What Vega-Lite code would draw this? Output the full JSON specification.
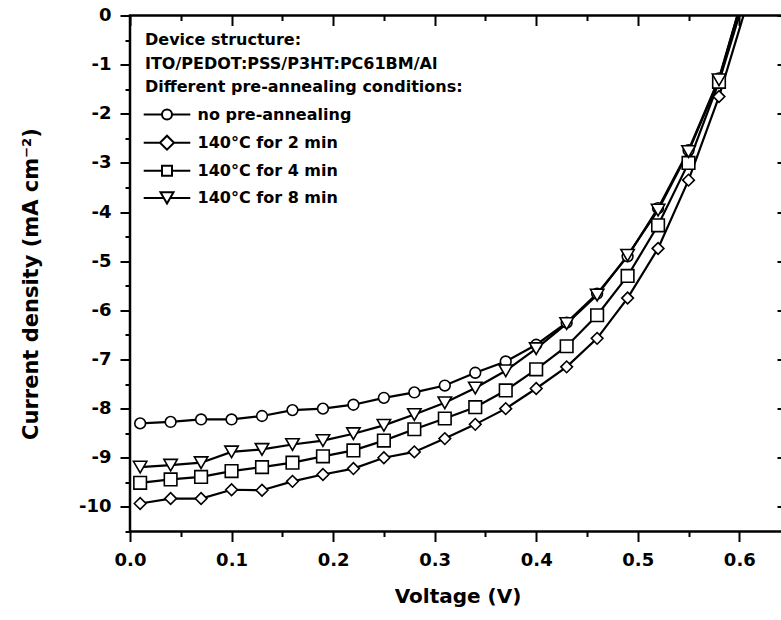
{
  "$schema": "https://vega.github.io/schema/vega-lite/v6.json",
  "width": 655,
  "height": 516,
  "autosize": {"type": "none"},
  "padding": {"left": 130, "top": 15.5, "right": 0, "bottom": 88.5},
  "background": "white",
  "config": {
    "view": {"stroke": "black", "strokeWidth": 2.5},
    "font": "DejaVu Sans",
    "axis": {
      "grid": false,
      "domain": false,
      "labelFont": "DejaVu Sans",
      "labelFontWeight": "bold",
      "labelFontSize": 18,
      "labelColor": "black",
      "labelFlush": false,
      "labelOverlap": false,
      "titleFont": "DejaVu Sans",
      "titleFontWeight": "bold",
      "titleFontSize": 20,
      "titleColor": "black",
      "tickColor": "black",
      "tickWidth": 2
    }
  },
  "data": {
    "values": [
      {"v": 0.01, "j": -8.30, "s": "no pre-annealing"},
      {"v": 0.04, "j": -8.27, "s": "no pre-annealing"},
      {"v": 0.07, "j": -8.22, "s": "no pre-annealing"},
      {"v": 0.10, "j": -8.22, "s": "no pre-annealing"},
      {"v": 0.13, "j": -8.15, "s": "no pre-annealing"},
      {"v": 0.16, "j": -8.03, "s": "no pre-annealing"},
      {"v": 0.19, "j": -8.00, "s": "no pre-annealing"},
      {"v": 0.22, "j": -7.92, "s": "no pre-annealing"},
      {"v": 0.25, "j": -7.78, "s": "no pre-annealing"},
      {"v": 0.28, "j": -7.67, "s": "no pre-annealing"},
      {"v": 0.31, "j": -7.53, "s": "no pre-annealing"},
      {"v": 0.34, "j": -7.27, "s": "no pre-annealing"},
      {"v": 0.37, "j": -7.04, "s": "no pre-annealing"},
      {"v": 0.40, "j": -6.70, "s": "no pre-annealing"},
      {"v": 0.43, "j": -6.25, "s": "no pre-annealing"},
      {"v": 0.46, "j": -5.66, "s": "no pre-annealing"},
      {"v": 0.49, "j": -4.90, "s": "no pre-annealing"},
      {"v": 0.52, "j": -3.92, "s": "no pre-annealing"},
      {"v": 0.55, "j": -2.74, "s": "no pre-annealing"},
      {"v": 0.58, "j": -1.28, "s": "no pre-annealing"},
      {"v": 0.61, "j": 0.85, "s": "no pre-annealing"},
      {"v": 0.01, "j": -9.93, "s": "140°C for 2 min"},
      {"v": 0.04, "j": -9.83, "s": "140°C for 2 min"},
      {"v": 0.07, "j": -9.83, "s": "140°C for 2 min"},
      {"v": 0.10, "j": -9.65, "s": "140°C for 2 min"},
      {"v": 0.13, "j": -9.66, "s": "140°C for 2 min"},
      {"v": 0.16, "j": -9.48, "s": "140°C for 2 min"},
      {"v": 0.19, "j": -9.34, "s": "140°C for 2 min"},
      {"v": 0.22, "j": -9.22, "s": "140°C for 2 min"},
      {"v": 0.25, "j": -9.00, "s": "140°C for 2 min"},
      {"v": 0.28, "j": -8.88, "s": "140°C for 2 min"},
      {"v": 0.31, "j": -8.61, "s": "140°C for 2 min"},
      {"v": 0.34, "j": -8.32, "s": "140°C for 2 min"},
      {"v": 0.37, "j": -8.00, "s": "140°C for 2 min"},
      {"v": 0.40, "j": -7.59, "s": "140°C for 2 min"},
      {"v": 0.43, "j": -7.15, "s": "140°C for 2 min"},
      {"v": 0.46, "j": -6.57, "s": "140°C for 2 min"},
      {"v": 0.49, "j": -5.75, "s": "140°C for 2 min"},
      {"v": 0.52, "j": -4.74, "s": "140°C for 2 min"},
      {"v": 0.55, "j": -3.35, "s": "140°C for 2 min"},
      {"v": 0.58, "j": -1.65, "s": "140°C for 2 min"},
      {"v": 0.61, "j": 0.40, "s": "140°C for 2 min"},
      {"v": 0.01, "j": -9.51, "s": "140°C for 4 min"},
      {"v": 0.04, "j": -9.44, "s": "140°C for 4 min"},
      {"v": 0.07, "j": -9.39, "s": "140°C for 4 min"},
      {"v": 0.10, "j": -9.27, "s": "140°C for 4 min"},
      {"v": 0.13, "j": -9.19, "s": "140°C for 4 min"},
      {"v": 0.16, "j": -9.10, "s": "140°C for 4 min"},
      {"v": 0.19, "j": -8.97, "s": "140°C for 4 min"},
      {"v": 0.22, "j": -8.85, "s": "140°C for 4 min"},
      {"v": 0.25, "j": -8.65, "s": "140°C for 4 min"},
      {"v": 0.28, "j": -8.42, "s": "140°C for 4 min"},
      {"v": 0.31, "j": -8.20, "s": "140°C for 4 min"},
      {"v": 0.34, "j": -7.97, "s": "140°C for 4 min"},
      {"v": 0.37, "j": -7.63, "s": "140°C for 4 min"},
      {"v": 0.40, "j": -7.20, "s": "140°C for 4 min"},
      {"v": 0.43, "j": -6.73, "s": "140°C for 4 min"},
      {"v": 0.46, "j": -6.10, "s": "140°C for 4 min"},
      {"v": 0.49, "j": -5.30, "s": "140°C for 4 min"},
      {"v": 0.52, "j": -4.27, "s": "140°C for 4 min"},
      {"v": 0.55, "j": -3.00, "s": "140°C for 4 min"},
      {"v": 0.58, "j": -1.35, "s": "140°C for 4 min"},
      {"v": 0.61, "j": 0.68, "s": "140°C for 4 min"},
      {"v": 0.01, "j": -9.19, "s": "140°C for 8 min"},
      {"v": 0.04, "j": -9.15, "s": "140°C for 8 min"},
      {"v": 0.07, "j": -9.10, "s": "140°C for 8 min"},
      {"v": 0.10, "j": -8.88, "s": "140°C for 8 min"},
      {"v": 0.13, "j": -8.83, "s": "140°C for 8 min"},
      {"v": 0.16, "j": -8.73, "s": "140°C for 8 min"},
      {"v": 0.19, "j": -8.65, "s": "140°C for 8 min"},
      {"v": 0.22, "j": -8.51, "s": "140°C for 8 min"},
      {"v": 0.25, "j": -8.34, "s": "140°C for 8 min"},
      {"v": 0.28, "j": -8.12, "s": "140°C for 8 min"},
      {"v": 0.31, "j": -7.88, "s": "140°C for 8 min"},
      {"v": 0.34, "j": -7.58, "s": "140°C for 8 min"},
      {"v": 0.37, "j": -7.23, "s": "140°C for 8 min"},
      {"v": 0.40, "j": -6.78, "s": "140°C for 8 min"},
      {"v": 0.43, "j": -6.27, "s": "140°C for 8 min"},
      {"v": 0.46, "j": -5.69, "s": "140°C for 8 min"},
      {"v": 0.49, "j": -4.88, "s": "140°C for 8 min"},
      {"v": 0.52, "j": -3.96, "s": "140°C for 8 min"},
      {"v": 0.55, "j": -2.77, "s": "140°C for 8 min"},
      {"v": 0.58, "j": -1.31, "s": "140°C for 8 min"},
      {"v": 0.61, "j": 0.85, "s": "140°C for 8 min"}
    ]
  },
  "layer": [
    {
      "mark": {"type": "line", "color": "black", "strokeWidth": 2.2, "clip": true},
      "encoding": {
        "x": {
          "field": "v", "type": "quantitative",
          "scale": {"domain": [0, 0.645], "nice": false, "zero": false},
          "axis": {
            "orient": "bottom", "values": [0, 0.1, 0.2, 0.3, 0.4, 0.5, 0.6],
            "format": ".1f", "tickSize": 10, "labelPadding": 10,
            "title": "Voltage (V)", "titleBaseline": "alphabetic", "titleY": 71
          }
        },
        "y": {
          "field": "j", "type": "quantitative",
          "scale": {"domain": [-10.5, 0], "nice": false, "zero": false},
          "axis": {
            "orient": "left", "values": [-10, -9, -8, -7, -6, -5, -4, -3, -2, -1, 0],
            "labelExpr": "datum.value == 0 ? '0' : '-' + abs(datum.value)",
            "tickSize": 10, "labelPadding": 9,
            "title": "Current density (mA cm⁻²)", "titleFontSize": 21,
            "titleX": -99, "titleY": 268, "titleBaseline": "middle", "titleAlign": "center", "titleAngle": -90
          }
        },
        "detail": {"field": "s", "type": "nominal"}
      }
    },
    {
      "mark": {"type": "point", "filled": true, "fill": "white", "stroke": "black", "strokeWidth": 1.6, "opacity": 1, "clip": true},
      "encoding": {
        "x": {
          "field": "v", "type": "quantitative",
          "axis": {"orient": "bottom", "values": [0.05, 0.15, 0.25, 0.35, 0.45, 0.55], "tickSize": 5, "labels": false, "title": null}
        },
        "y": {
          "field": "j", "type": "quantitative",
          "axis": {"orient": "left", "values": [-10.5, -9.5, -8.5, -7.5, -6.5, -5.5, -4.5, -3.5, -2.5, -1.5, -0.5], "tickSize": 5, "labels": false, "title": null}
        },
        "shape": {
          "field": "s", "type": "nominal",
          "scale": {
            "domain": ["no pre-annealing", "140°C for 2 min", "140°C for 4 min", "140°C for 8 min"],
            "range": ["circle", "diamond", "square", "triangle-down"]
          },
          "legend": null
        },
        "size": {
          "field": "s", "type": "nominal",
          "scale": {
            "domain": ["no pre-annealing", "140°C for 2 min", "140°C for 4 min", "140°C for 8 min"],
            "range": [115, 180, 100, 160]
          },
          "legend": null
        }
      }
    },
    {
      "transform": [{"filter": {"field": "v", "gt": 5}}],
      "mark": {"type": "point", "filled": false, "color": "black", "strokeWidth": 2, "size": 100, "opacity": 1},
      "encoding": {
        "x": {
          "field": "v", "type": "quantitative",
          "axis": {"orient": "top", "values": [0, 0.1, 0.2, 0.3, 0.4, 0.5, 0.6], "tickSize": -10, "labels": false, "title": null}
        },
        "y": {
          "field": "j", "type": "quantitative",
          "axis": {"orient": "right", "values": [-10, -9, -8, -7, -6, -5, -4, -3, -2, -1, 0], "tickSize": -8, "labels": false, "title": null}
        },
        "shape": {
          "field": "s", "type": "nominal",
          "scale": {
            "domain": ["no pre-annealing", "140°C for 2 min", "140°C for 4 min", "140°C for 8 min"],
            "range": [
              "M-1.86,0H1.8A1,1,0,1,1,3.8,0A1,1,0,1,1,1.8,0M3.8,0H7.46",
              "M-1.86,0H1.4M1.4,0L2.8,-1.4L4.2,0L2.8,1.4ZM4.2,0H7.46",
              "M-1.86,0H1.8M1.8,-1H3.8V1H1.8ZM3.8,0H7.46",
              "M-1.86,0H2.15M2.8,1.126L1.5,-1.126H4.1ZM3.45,0H7.46"
            ]
          },
          "legend": {
            "orient": "none", "legendX": 15, "legendY": 16.8, "padding": 0,
            "title": ["Device structure:", "ITO/PEDOT:PSS/P3HT:PC61BM/Al", "Different pre-annealing conditions:"],
            "titleFont": "DejaVu Sans", "titleFontSize": 16, "titleFontWeight": "bold", "titleColor": "black",
            "titleLineHeight": 23.3, "titleLimit": 1000, "titlePadding": 11.7, "titleAnchor": "start",
            "labelFont": "DejaVu Sans", "labelFontSize": 16, "labelFontWeight": "bold", "labelColor": "black",
            "labelLimit": 1000, "labelOffset": 36.5, "rowPadding": 8.1,
            "symbolSize": 100, "symbolStrokeWidth": 2, "symbolStrokeColor": "black", "symbolOpacity": 1
          }
        }
      }
    },
    {
      "mark": {"type": "point", "opacity": 0},
      "encoding": {
        "x": {
          "field": "v", "type": "quantitative",
          "axis": {"orient": "top", "values": [0.05, 0.15, 0.25, 0.35, 0.45, 0.55], "tickSize": -5, "labels": false, "title": null}
        },
        "y": {"field": "j", "type": "quantitative", "axis": null}
      }
    }
  ],
  "resolve": {
    "axis": {"x": "independent", "y": "independent"},
    "scale": {"shape": "independent"}
  }
}
